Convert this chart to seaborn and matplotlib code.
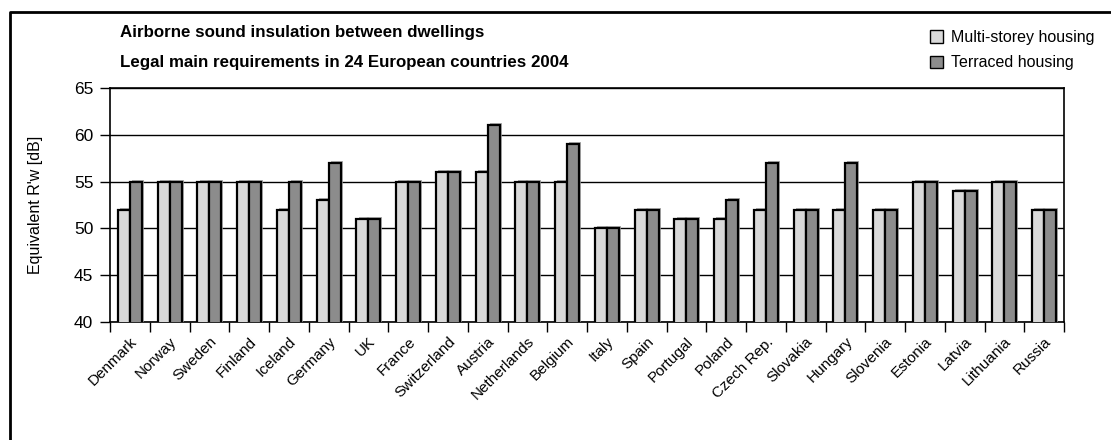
import matplotlib
matplotlib.use("Agg")
import matplotlib.pyplot as plt
import matplotlib.patheffects as pe
from matplotlib.lines import Line2D
from matplotlib.patches import Patch
from matplotlib.ticker import FixedLocator
import numpy as np
import pandas as pd
import seaborn as sns

countries = ["Denmark", "Norway", "Sweden", "Finland", "Iceland", "Germany", "UK",
             "France", "Switzerland", "Austria", "Netherlands", "Belgium", "Italy",
             "Spain", "Portugal", "Poland", "Czech Rep.", "Slovakia", "Hungary",
             "Slovenia", "Estonia", "Latvia", "Lithuania", "Russia"]
multi_storey = [52, 55, 55, 55, 52, 53, 51, 55, 56, 56, 55, 55, 50,
                52, 51, 51, 52, 52, 52, 52, 55, 54, 55, 52]
terraced = [55, 55, 55, 55, 55, 57, 51, 55, 56, 61, 55, 59, 50,
            52, 51, 53, 57, 52, 57, 52, 55, 54, 55, 52]
series_names = ["Multi-storey housing", "Terraced housing"]
title_lines = ["Airborne sound insulation between dwellings",
               "Legal main requirements in 24 European countries 2004"]
y_label = "Equivalent R'w [dB]"
y_ticks = [40, 45, 50, 55, 60, 65]

df = pd.DataFrame({
    "country": countries * 2,
    "value": multi_storey + terraced,
    "series": [series_names[0]] * len(countries) + [series_names[1]] * len(countries),
})

sns.set_theme(style="white")
plt.rcParams["font.family"] = ["Liberation Sans", "DejaVu Sans"]
plt.rcParams["text.color"] = "black"
plt.rcParams["axes.labelcolor"] = "black"
plt.rcParams["xtick.color"] = "black"
plt.rcParams["ytick.color"] = "black"

fig = plt.figure(figsize=(11.11, 4.4), dpi=100)
ax = fig.add_axes([110 / 1111, 1 - 322 / 440, (1064 - 110) / 1111, (322 - 88) / 440])

palette = {series_names[0]: "#d9d9d9", series_names[1]: "#8c8c8c"}
sns.barplot(data=df, x="country", y="value", hue="series", order=countries,
            hue_order=series_names, palette=palette, width=0.6, dodge=True,
            edgecolor="black", linewidth=1.6, saturation=1, ax=ax, legend=False,
            zorder=3)
for p in ax.patches:
    p.set_path_effects([pe.SimplePatchShadow(offset=(1.5, 1.5), shadow_rgbFace="#9a9a9a", alpha=0.8),
                        pe.Normal()])

ax.set_ylim(40, 65)
ax.set_xlim(-0.5, len(countries) - 0.5)
ax.set_yticks(y_ticks)
ax.yaxis.grid(True, color="black", linewidth=1.0, zorder=0)
ax.set_axisbelow(True)
for s in ax.spines.values():
    s.set_color("black")
    s.set_linewidth(1.2)

ax.set_xticks(range(len(countries)))
ax.set_xticklabels(countries, rotation=45, ha="right", rotation_mode="anchor", fontsize=11)
ax.tick_params(axis="x", which="major", length=0, pad=9)
ax.xaxis.set_minor_locator(FixedLocator(np.arange(-0.5, len(countries), 1.0)))
ax.tick_params(axis="x", which="minor", length=7, width=1, color="black", direction="out", bottom=True)
ax.tick_params(axis="y", length=7, width=1, color="black", direction="out", left=True, labelsize=12.5, pad=5)
ax.set_xlabel("")
ax.set_ylabel(y_label, fontsize=11.5, labelpad=22)

fig.text(120 / 1111, 1 - 32 / 440, title_lines[0], fontsize=12.2, fontweight="bold", va="center", ha="left")
fig.text(120 / 1111, 1 - 62 / 440, title_lines[1], fontsize=12.2, fontweight="bold", va="center", ha="left")

handles = [Patch(facecolor=palette[n], edgecolor="black", linewidth=1.0) for n in series_names]
fig.legend(handles, series_names, loc="upper right", bbox_to_anchor=(1102 / 1111, 1 - 22 / 440),
           frameon=False, fontsize=11.5, handlelength=0.8, handleheight=0.8, handletextpad=0.5,
           labelspacing=0.65, borderpad=0)

fig.add_artist(Line2D([10 / 1111, 10 / 1111, 1.0], [0.0, 1 - 12 / 440, 1 - 12 / 440],
                      transform=fig.transFigure, color="black", linewidth=2.0))

fig.savefig("out.png", dpi=100)
